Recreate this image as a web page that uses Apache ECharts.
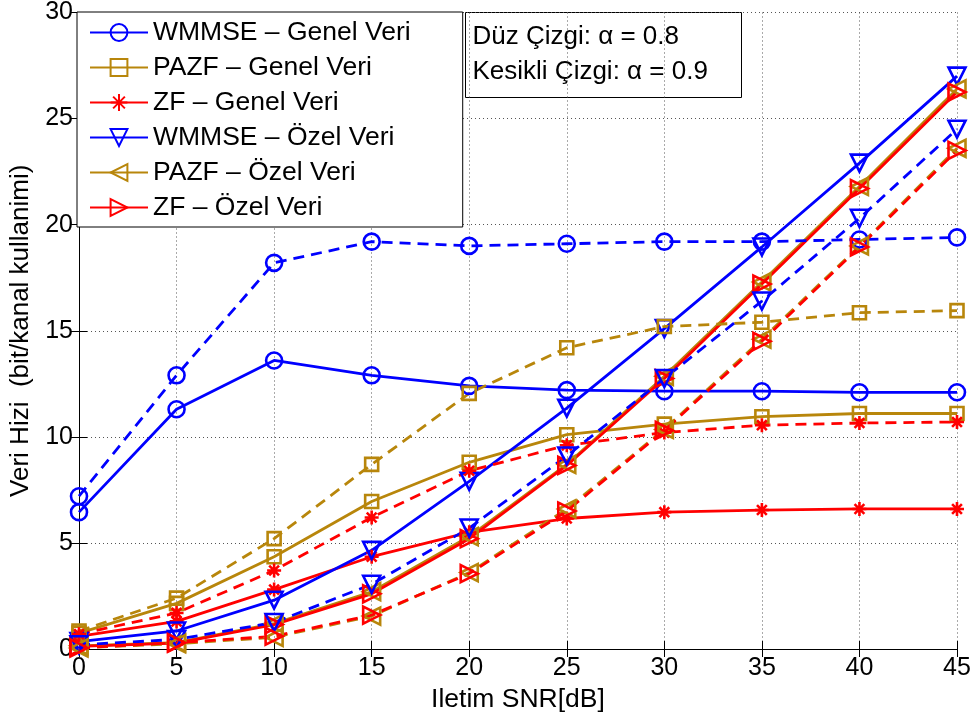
<!DOCTYPE html>
<html>
<head>
<meta charset="utf-8">
<script src="https://cdn.jsdelivr.net/npm/echarts@6/dist/echarts.min.js"></script>
<style>
  html, body { margin: 0; padding: 0; background: #fff; }
  #chart { width: 975px; height: 718px; }
</style>
</head>
<body>
<div id="chart"></div>
<script>
  var snr = [0, 5, 10, 15, 20, 25, 30, 35, 40, 45]
  var yTicks = [0, 5, 10, 15, 20, 25, 30]

  // duz cizgi: alpha = 0.8
  var wmmseGenel08 = [6.45, 11.3, 13.6, 12.9, 12.4, 12.2, 12.15, 12.15, 12.1, 12.1]
  var pazfGenel08 = [0.75, 2.15, 4.35, 6.95, 8.8, 10.1, 10.6, 10.95, 11.1, 11.1]
  var zfGenel08 = [0.6, 1.3, 2.8, 4.35, 5.5, 6.15, 6.45, 6.55, 6.6, 6.6]
  var wmmseOzel08 = [0.35, 0.85, 2.3, 4.65, 7.9, 11.35, 15.1, 18.95, 22.9, 27.0]
  var pazfOzel08 = [0.15, 0.3, 1.2, 2.7, 5.3, 8.7, 12.85, 17.3, 21.8, 26.4]
  var zfOzel08 = [0.12, 0.28, 1.15, 2.6, 5.2, 8.65, 12.75, 17.2, 21.7, 26.25]

  // kesikli cizgi: alpha = 0.9
  var wmmseGenel09 = [7.2, 12.9, 18.2, 19.2, 19.0, 19.1, 19.2, 19.2, 19.3, 19.4]
  var pazfGenel09 = [0.85, 2.4, 5.2, 8.7, 12.05, 14.2, 15.2, 15.4, 15.85, 15.95]
  var zfGenel09 = [0.7, 1.7, 3.7, 6.2, 8.4, 9.6, 10.2, 10.55, 10.65, 10.7]
  var wmmseOzel09 = [0.2, 0.45, 1.25, 3.05, 5.7, 9.1, 12.75, 16.4, 20.3, 24.5]
  var pazfOzel09 = [0.05, 0.25, 0.55, 1.55, 3.6, 6.6, 10.35, 14.6, 19.0, 23.6]
  var zfOzel09 = [0.05, 0.3, 0.6, 1.6, 3.55, 6.5, 10.3, 14.5, 18.95, 23.5]

  var names = ['WMMSE – Genel Veri', 'PAZF – Genel Veri', 'ZF – Genel Veri',
    'WMMSE – Özel Veri', 'PAZF – Özel Veri', 'ZF – Özel Veri']

  var BLUE = '#0000ff'
  var GOLD = '#b8860b'
  var RED = '#ff0000'
  var FONT = '"Liberation Sans", Arial, Helvetica, sans-serif'

  var sym = {
    circle: 'circle',
    square: 'rect',
    star: 'path://M5,0L5,10M0,5L10,5M1.5,1.5L8.5,8.5M8.5,1.5L1.5,8.5',
    down: 'path://M0,0L10,0L5,9Z',
    left: 'path://M9,0L9,10L0,5Z',
    right: 'path://M0,0L0,10L9,5Z'
  }

  function mk (name, values, color, symbol, size, dashed) {
    return {
      name: name,
      type: 'line',
      data: snr.map(function (x, i) { return [x, values[i]] }),
      symbol: symbol,
      symbolSize: size,
      showSymbol: true,
      animation: false,
      lineStyle: { color: color, width: 2.8, type: dashed ? [11, 7] : 'solid' },
      itemStyle: { color: 'transparent', borderColor: color, borderWidth: 2.6 },
      emphasis: { disabled: true }
    }
  }

  var series = [
    mk(names[0], wmmseGenel08, BLUE, sym.circle, 16, false),
    mk(names[1], pazfGenel08, GOLD, sym.square, 13, false),
    mk(names[2], zfGenel08, RED, sym.star, 14, false),
    mk(names[3], wmmseOzel08, BLUE, sym.down, 17, false),
    mk(names[4], pazfOzel08, GOLD, sym.left, 17, false),
    mk(names[5], zfOzel08, RED, sym.right, 17, false),
    mk(names[0] + ' (0.9)', wmmseGenel09, BLUE, sym.circle, 16, true),
    mk(names[1] + ' (0.9)', pazfGenel09, GOLD, sym.square, 13, true),
    mk(names[2] + ' (0.9)', zfGenel09, RED, sym.star, 14, true),
    mk(names[3] + ' (0.9)', wmmseOzel09, BLUE, sym.down, 17, true),
    mk(names[4] + ' (0.9)', pazfOzel09, GOLD, sym.left, 17, true),
    mk(names[5] + ' (0.9)', zfOzel09, RED, sym.right, 17, true)
  ]

  var axisLine = { show: true, lineStyle: { color: '#000', width: 1 } }
  var tick = { show: true, inside: true, length: 8, lineStyle: { color: '#000' } }
  var grid = { show: true, lineStyle: { color: '#555', type: [1, 3], width: 1 } }

  var myChart = echarts.init(document.getElementById('chart'))
  myChart.setOption({
    backgroundColor: '#fff',
    textStyle: { fontFamily: FONT },
    grid: { left: 77, right: 18, top: 12, bottom: 69 },
    legend: {
      data: names,
      orient: 'vertical',
      left: 77,
      top: 12,
      padding: [7, 52, 6, 12],
      itemWidth: 58,
      itemHeight: 21,
      itemGap: 8,
      selectedMode: false,
      backgroundColor: '#fff',
      borderColor: '#000',
      borderWidth: 1,
      textStyle: { fontFamily: FONT, fontSize: 26.5, color: '#000' }
    },
    xAxis: [
      {
        type: 'value', min: 0, max: 45, interval: 5,
        name: 'Iletim SNR[dB]', nameLocation: 'middle', nameGap: 32,
        nameTextStyle: { fontFamily: FONT, fontSize: 26.5, color: '#000' },
        axisLine: axisLine, axisTick: tick, splitLine: grid,
        axisLabel: { fontFamily: FONT, fontSize: 25, color: '#000', margin: 7 }
      },
      {
        type: 'value', min: 0, max: 45, interval: 5, position: 'top',
        axisLine: axisLine, axisTick: tick, splitLine: { show: false },
        axisLabel: { show: false }
      }
    ],
    yAxis: [
      {
        type: 'value', min: 0, max: 30, interval: 5,
        name: 'Veri Hizi  (bit/kanal kullanimi)', nameLocation: 'middle', nameGap: 45,
        nameTextStyle: { fontFamily: FONT, fontSize: 26, color: '#000' },
        axisLine: axisLine, axisTick: tick, splitLine: grid,
        axisLabel: {
          fontFamily: FONT, fontSize: 25, color: '#000', margin: 6,
          formatter: function (v) { return yTicks.indexOf(v) >= 0 ? String(v) : '' }
        }
      },
      {
        type: 'value', min: 0, max: 30, interval: 5, position: 'right',
        axisLine: axisLine, axisTick: tick, splitLine: { show: false },
        axisLabel: { show: false }
      }
    ],
    graphic: [
      {
        type: 'group', left: 465, top: 12, z: 100,
        children: [
          { type: 'rect', shape: { x: 0, y: 0, width: 276, height: 85 },
            style: { fill: '#fff', stroke: '#000', lineWidth: 1 } },
          { type: 'text', x: 7, y: 24,
            style: { text: 'Düz Çizgi: α = 0.8', font: '26px ' + FONT, fill: '#000', verticalAlign: 'middle' } },
          { type: 'text', x: 7, y: 59,
            style: { text: 'Kesikli Çizgi: α = 0.9', font: '26px ' + FONT, fill: '#000', verticalAlign: 'middle' } }
        ]
      }
    ],
    series: series
  })
</script>
</body>
</html>
